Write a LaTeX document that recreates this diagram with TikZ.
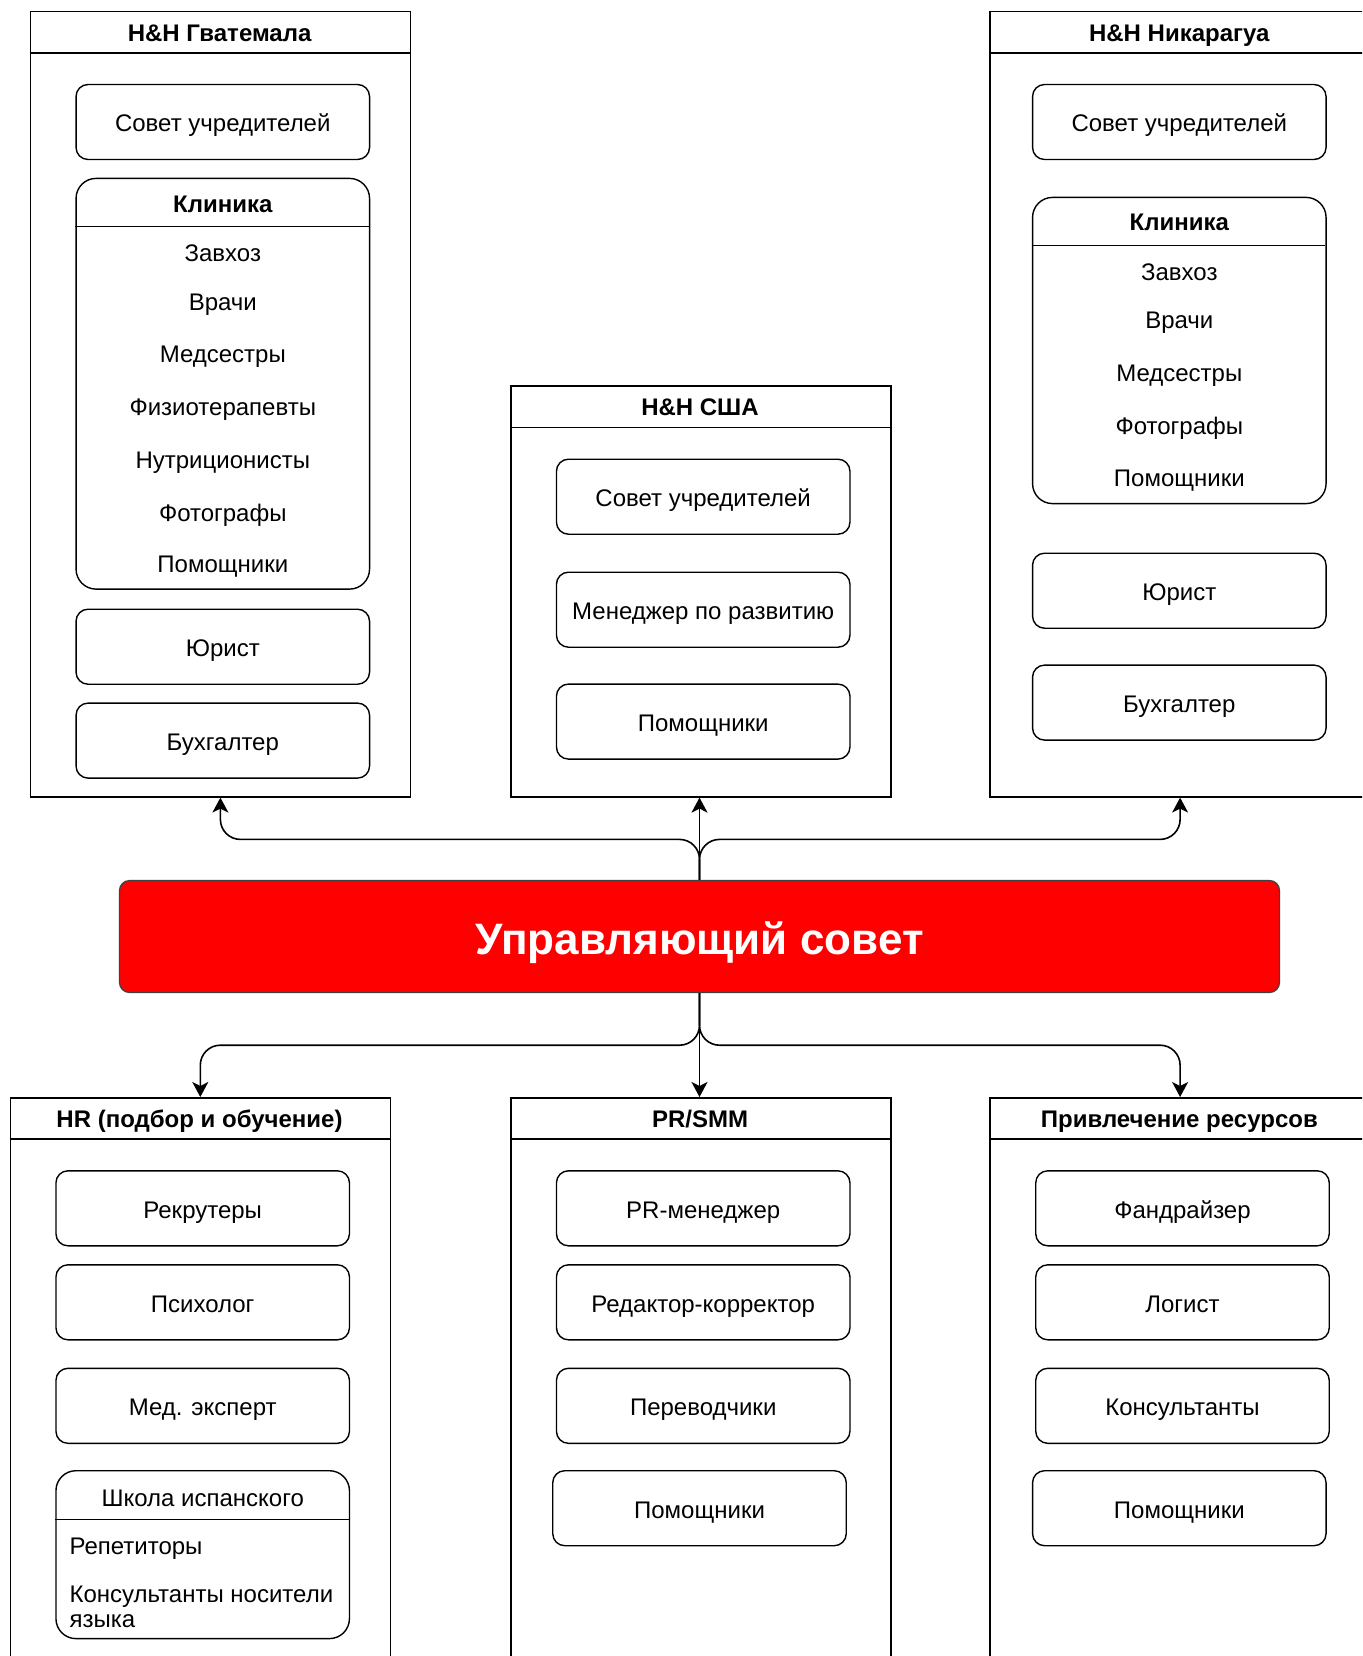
\documentclass[tikz,border=0pt]{standalone}
\usepackage{fontspec}
\setmainfont{Liberation Sans}
\usetikzlibrary{arrows.meta}

\tikzset{
  unit/.style={draw, line width=1.6pt, minimum width=380pt, anchor=north west, inner sep=0pt},
  head/.style={font=\bfseries\fontsize{24}{28}\selectfont, inner sep=0.75pt, text height=20.8pt, text depth=2pt},
  post/.style={draw, line width=1.4pt, rounded corners=12pt, minimum width=293.5pt, minimum height=75pt, inner sep=0pt, text height=22pt, text depth=2pt, font=\fontsize{24}{28}\selectfont},
  group/.style={draw, line width=1.4pt, rounded corners=20pt, minimum width=293.5pt, inner sep=0pt},
  entry/.style={font=\fontsize{24}{28}\selectfont, inner sep=0.75pt, text height=22pt, text depth=2pt},
  board/.style={draw=black!75, line width=1.2pt, fill=red, rounded corners=10pt, text=white, minimum width=1160pt, minimum height=112pt, text height=40pt, text depth=3.4pt, font=\bfseries\fontsize{44}{50}\selectfont},
  link/.style={line width=1.6pt, rounded corners=20pt, -{Stealth[length=15pt,width=16pt,inset=4pt]}}
}

\begin{document}
\begin{tikzpicture}[x=1pt,y=1pt,yscale=-1,xscale=1]
        \useasboundingbox (0,0) rectangle (1362,1656);
        \clip (0,0) rectangle (1362,1656);

        %Shape: Container H&H Guatemala
        \node [unit, minimum height=785.4pt] (guat) at (29.6,10.6) {};
        \draw [line width=1.6pt] (guat.north west) ++(0,42.2) -- ++(380,0);
        \node [head] (guatT) at (219.6,31.7) {H\&H Гватемала};
        \node [post] (gSovet) at (222.8,122) {Совет учредителей};
        \node [group, minimum height=410.7pt] (gClinic) at (222.8,383.75) {};
        \draw [line width=1.4pt] (gClinic.north west) ++(0,48.6) -- ++(293.5,0);
        \node [head] (gClinicT) at (222.8,202.7) {Клиника};
        \node [entry] (gC1) at (222.8,251.3) {Завхоз};
        \node [entry] (gC2) at (222.8,300.9) {Врачи};
        \node [entry] (gC3) at (222.8,352.6) {Медсестры};
        \node [entry] (gC4) at (222.8,405.4) {Физиотерапевты};
        \node [entry] (gC5) at (222.8,458.2) {Нутриционисты};
        \node [entry] (gC6) at (222.8,511) {Фотографы};
        \node [entry] (gC7) at (222.8,562.7) {Помощники};
        \node [post] (gLawyer) at (222.8,646.7) {Юрист};
        \node [post] (gAcc) at (222.8,740.6) {Бухгалтер};

        %Shape: Container H&H USA
        \node [unit, minimum height=410.6pt] (usa) at (510,385.4) {};
        \draw [line width=1.6pt] (usa.north west) ++(0,42.2) -- ++(380,0);
        \node [head] (usaT) at (700,406.5) {H\&H США};
        \node [post] (uSovet) at (703.2,496.7) {Совет учредителей};
        \node [post] (uManager) at (703.2,609.7) {Менеджер по развитию};
        \node [post] (uHelp) at (703.2,721.6) {Помощники};

        %Shape: Container H&H Nicaragua
        \node [unit, minimum height=785.4pt] (nica) at (989.3,10.6) {};
        \draw [line width=1.6pt] (nica.north west) ++(0,42.2) -- ++(380,0);
        \node [head] (nicaT) at (1179.3,31.7) {H\&H Никарагуа};
        \node [post] (nSovet) at (1179.3,122) {Совет учредителей};
        \node [group, minimum height=306.2pt] (nClinic) at (1179.3,350.5) {};
        \draw [line width=1.4pt] (nClinic.north west) ++(0,48.6) -- ++(293.5,0);
        \node [head] (nClinicT) at (1179.3,220.7) {Клиника};
        \node [entry] (nC1) at (1179.3,270.3) {Завхоз};
        \node [entry] (nC2) at (1179.3,318.9) {Врачи};
        \node [entry] (nC3) at (1179.3,371.6) {Медсестры};
        \node [entry] (nC4) at (1179.3,424.4) {Фотографы};
        \node [entry] (nC5) at (1179.3,476.2) {Помощники};
        \node [post] (nLawyer) at (1179.3,590.7) {Юрист};
        \node [post] (nAcc) at (1179.3,702.6) {Бухгалтер};

        %Shape: Governing board
        \node [board] (board) at (699.5,936.5) {Управляющий совет};

        %Shape: Container HR
        \node [unit, minimum height=600pt] (hr) at (9.5,1097) {};
        \draw [line width=1.6pt] (hr.north west) ++(0,42.2) -- ++(380,0);
        \node [head] (hrT) at (199.5,1118.1) {HR (подбор и обучение)};
        \node [post] (hRecruit) at (202.7,1208.3) {Рекрутеры};
        \node [post] (hPsych) at (202.7,1302.3) {Психолог};
        \node [post] (hMed) at (202.7,1405.8) {Мед. эксперт};
        \node [group, minimum height=167.9pt] (hSchool) at (202.7,1554.65) {};
        \draw [line width=1.4pt] (hSchool.north west) ++(0,49.7) -- ++(293.5,0);
        \node [entry] (hSchoolT) at (202.7,1496) {Школа испанского};
        \node [entry, anchor=west] (hS1) at (68.6,1544.6) {Репетиторы};
        \node [anchor=west, align=left, inner sep=0.75pt, font=\fontsize{24}{25.3}\selectfont] (hS2) at (68.6,1607) {Консультанты носители\\языка};

        %Shape: Container PR/SMM
        \node [unit, minimum height=600pt] (pr) at (510,1097) {};
        \draw [line width=1.6pt] (pr.north west) ++(0,42.2) -- ++(380,0);
        \node [head] (prT) at (700,1118.1) {PR/SMM};
        \node [post] (pManager) at (703.2,1208.3) {PR-менеджер};
        \node [post] (pEditor) at (703.2,1302.3) {Редактор-корректор};
        \node [post] (pTrans) at (703.2,1405.8) {Переводчики};
        \node [post] (pHelp) at (699.5,1508.2) {Помощники};

        %Shape: Container resources
        \node [unit, minimum height=600pt] (res) at (989.3,1097) {};
        \draw [line width=1.6pt] (res.north west) ++(0,42.2) -- ++(380,0);
        \node [head] (resT) at (1179.3,1118.1) {Привлечение ресурсов};
        \node [post] (rFund) at (1182.5,1208.3) {Фандрайзер};
        \node [post] (rLog) at (1182.5,1302.3) {Логист};
        \node [post] (rCons) at (1182.5,1405.8) {Консультанты};
        \node [post] (rHelp) at (1179.3,1508.2) {Помощники};

        %Connectors
        \coordinate (upbus) at (699.5,839.4);
        \coordinate (downbus) at (699.5,1045.2);
        \draw [link] (board.north) -- (board.north |- usa.south);
        \draw [link] (board.north) -- (upbus) -| (guat.south);
        \draw [link] (board.north) -- (upbus) -| (nica.south);
        \draw [link] (board.south) -- (board.south |- pr.north);
        \draw [link] (board.south) -- (downbus) -| (hr.north);
        \draw [link] (board.south) -- (downbus) -| (res.north);
\end{tikzpicture}
\end{document}
